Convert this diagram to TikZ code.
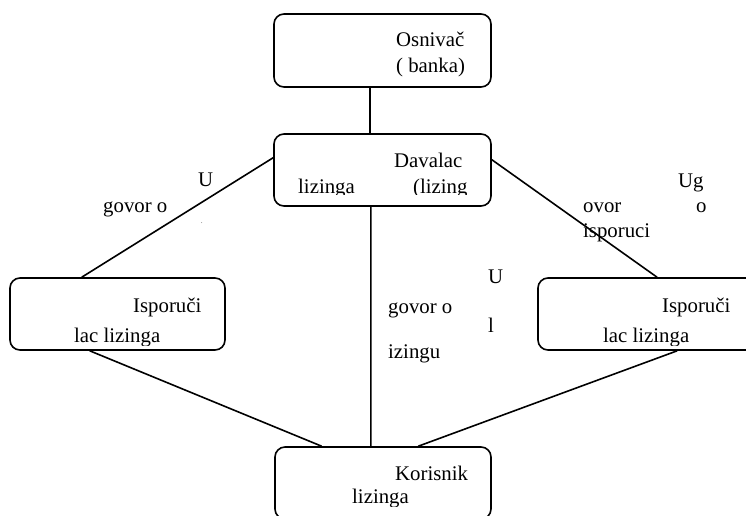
\documentclass[tikz,border=0pt]{standalone}
\usepackage{fontspec}
\setmainfont{Liberation Serif}
\usetikzlibrary{calc}
\begin{document}
\begin{tikzpicture}[x=1pt,y=-1pt,
  boxstyle/.style={draw, line width=1.6pt, rounded corners=10pt, inner sep=0pt},
  txt/.style={anchor=base west, inner sep=0pt, font=\fontsize{20.8}{24}\selectfont},
  link/.style={line width=1.6pt}]
\useasboundingbox (0,0) rectangle (746,515);
\clip (0,0) rectangle (746,515);
% boxes
\node[boxstyle, minimum width=217pt, minimum height=73pt] (osn) at (382.5,50.5) {};
\node[boxstyle, minimum width=217pt, minimum height=72pt] (dav) at (382.5,170) {};
\node[boxstyle, minimum width=215pt, minimum height=72pt] (isl) at (117.5,314) {};
\node[boxstyle, minimum width=222pt, minimum height=72pt] (isr) at (649,314) {};
\node[boxstyle, minimum width=216pt, minimum height=72pt] (kor) at (383,483) {};
% connectors
\draw[link] ($(osn.south west)!0.442!(osn.south east)$) -- ($(dav.north west)!0.442!(dav.north east)$);
\draw[link] ($(dav.south west)!0.447!(dav.south east)$) -- ($(kor.north west)!0.444!(kor.north east)$);
\draw[link] ($(dav.north west)!0.333!(dav.south west)$) -- ($(isl.north west)!0.335!(isl.north east)$);
\draw[link] ($(dav.north east)!0.36!(dav.south east)$) -- ($(isr.north west)!0.536!(isr.north east)$);
\draw[link] ($(isl.south west)!0.372!(isl.south east)$) -- ($(kor.north west)!0.218!(kor.north east)$);
\draw[link] ($(isr.south west)!0.626!(isr.south east)$) -- ($(kor.north west)!0.662!(kor.north east)$);
% box texts
\node[txt] (t1) at (396,46) {Osnivač};
\node[txt] (t2) at (396,72) {( banka)};
\node[txt] (t3) at (394,167) {Davalac};
\begin{scope}
\clip (280,140) rectangle (490,194);
\node[txt] (t4) at (298,193) {lizinga};
\node[txt] (t5) at (413,193) {(lizing};
\end{scope}
\node[txt] (t6) at (133,312) {Isporuči};
\begin{scope}
\clip (20,320) rectangle (220,345);
\node[txt] (t7) at (74,342) {lac lizinga};
\end{scope}
\node[txt] (t8) at (662,312) {Isporuči};
\begin{scope}
\clip (545,320) rectangle (746,345);
\node[txt] (t9) at (603,342) {lac lizinga};
\end{scope}
\node[txt] (t10) at (395,480) {Korisnik};
\begin{scope}
\clip (290,485) rectangle (480,506);
\node[txt] (t11) at (352,503) {lizinga};
\end{scope}
% edge labels
\node[txt] (l1) at (198,186) {U};
\node[txt] (l2) at (103,212) {govor o};
\node[txt, font=\fontsize{6}{7}\selectfont] (l3) at (201,223) {.};
\node[txt] (r1) at (678,187) {Ug};
\node[txt] (r2) at (583,212) {ovor};
\node[txt] (r3) at (696,212) {o};
\node[txt] (r4) at (583,237) {isporuci};
\node[txt] (m1) at (488,283) {U};
\node[txt] (m2) at (388,313) {govor o};
\node[txt] (m3) at (488,332) {l};
\node[txt] (m4) at (388,358) {izingu};
\end{tikzpicture}
\end{document}
